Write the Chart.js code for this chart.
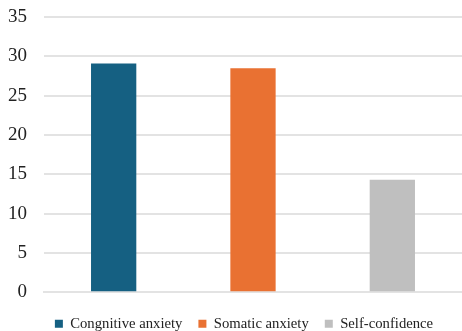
<!DOCTYPE html>
<html>
<head>
<meta charset="utf-8">
<script src="https://cdn.jsdelivr.net/npm/chart.js@4"></script>
<style>
  html, body { margin: 0; padding: 0; background: #fff; }
  #wrap { width: 462px; height: 331px; }
</style>
</head>
<body>
<div id="wrap"><canvas id="myChart"></canvas></div>
<script>
// chart data
const categories = ['Congnitive anxiety', 'Somatic anxiety', 'Self-confidence'];
const values = [29.1, 28.5, 14.3];
const colors = ['#156082', '#E97132', '#BFBFBF'];
const yTicks = [0, 5, 10, 15, 20, 25, 30, 35];

const serif = '"Liberation Serif", "Times New Roman", serif';

// one dataset per category so each gets its own legend entry
const datasets = categories.map((name, i) => ({
  label: name,
  data: categories.map((c, j) => (j === i ? values[i] : null)),
  backgroundColor: colors[i],
  borderWidth: 0,
  categoryPercentage: 1,
  barPercentage: 0.325,
  grouped: false,
}));

// nudge the legend a bit right, like the original
const legendShift = {
  id: 'legendShift',
  afterLayout(chart) {
    chart.legend.left += 9;
    chart.legend.right += 9;
  },
};

new Chart(document.getElementById('myChart'), {
  type: 'bar',
  data: { labels: categories, datasets: datasets },
  plugins: [legendShift],
  options: {
    animation: false,
    responsive: true,
    maintainAspectRatio: false,
    layout: { padding: { top: 0, right: 0, left: 8, bottom: -10 } },
    plugins: {
      legend: {
        position: 'bottom',
        labels: {
          boxWidth: 8,
          boxHeight: 8,
          padding: 16,
          color: '#222',
          font: { family: serif, size: 14.7 },
        },
      },
      tooltip: { enabled: false },
    },
    scales: {
      x: {
        ticks: { display: false },
        grid: { display: false },
        border: { display: true, color: '#e3e3e3', width: 2 },
      },
      y: {
        min: 0,
        max: 35,
        afterBuildTicks: (axis) => { axis.ticks = yTicks.map(v => ({ value: v })); },
        afterFit: (axis) => {
          axis.width = 36;
          axis.paddingTop = 17;
        },
        ticks: {
          color: '#222',
          padding: 17,
          font: { family: serif, size: 19 },
        },
        grid: { color: '#e3e3e3', lineWidth: 2, drawTicks: false },
        border: { display: false },
      },
    },
  },
});
</script>
</body>
</html>
